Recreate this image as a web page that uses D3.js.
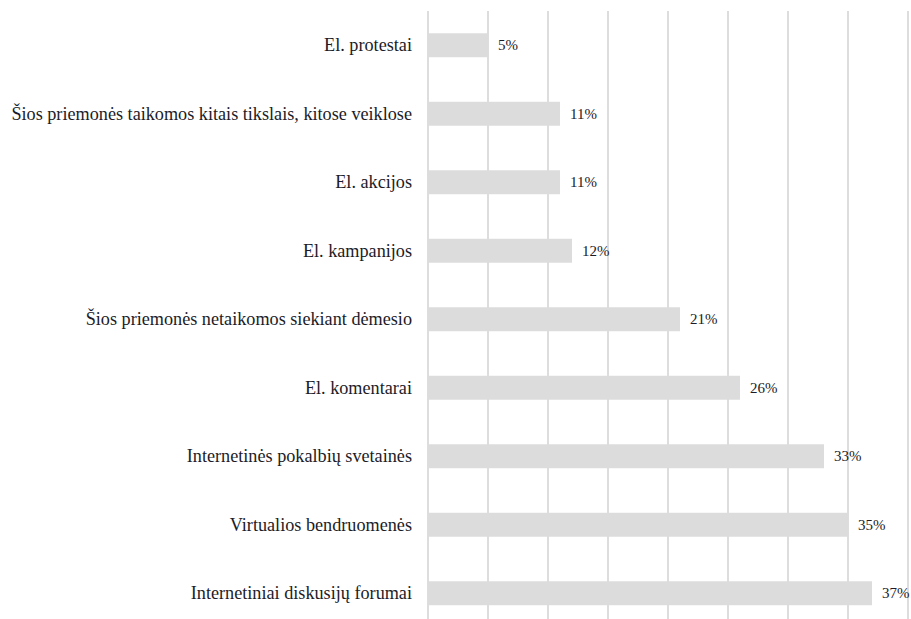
<!DOCTYPE html>
<html><head><meta charset="utf-8">
<script src="https://cdn.jsdelivr.net/npm/d3@7/dist/d3.min.js"></script>
<style>html,body{margin:0;padding:0;background:#fff;} text{font-family:"Liberation Serif","Times New Roman",Times,serif;}</style>
</head><body><svg id="c" width="911" height="619"></svg>
<script>
const categories = [
  "El. protestai",
  "Šios priemonės taikomos kitais tikslais, kitose veiklose",
  "El. akcijos",
  "El. kampanijos",
  "Šios priemonės netaikomos siekiant dėmesio",
  "El. komentarai",
  "Internetinės pokalbių svetainės",
  "Virtualios bendruomenės",
  "Internetiniai diskusijų forumai"
];
const values = [5, 11, 11, 12, 21, 26, 33, 35, 37];
const ticks = [0, 5, 10, 15, 20, 25, 30, 35, 40];

const svg = d3.select("#c");
const x = d3.scaleLinear().domain([0, 40]).range([428, 908]);
const y = d3.scaleBand().domain(categories).range([11, 627.5]).paddingInner(0.65).paddingOuter(0.325);

svg.append("g").selectAll("line").data(ticks).join("line")
  .attr("x1", d => x(d)).attr("x2", d => x(d))
  .attr("y1", 11).attr("y2", 619)
  .attr("stroke", "#dadada").attr("stroke-width", 1.8);

const data = categories.map((c, i) => ({c, v: values[i]}));

svg.append("g").selectAll("rect").data(data).join("rect")
  .attr("x", x(0)).attr("y", d => y(d.c))
  .attr("width", d => x(d.v) - x(0)).attr("height", y.bandwidth())
  .attr("fill", "#dcdcdc");

svg.append("g").selectAll("text").data(data).join("text")
  .attr("x", 412).attr("y", d => y(d.c) + y.bandwidth()/2)
  .attr("text-anchor", "end").attr("dominant-baseline", "central")
  .style("font-size", "18.2px").attr("fill", "#1c1c28")
  .text(d => d.c);

svg.append("g").selectAll("text").data(data).join("text")
  .attr("x", d => x(d.v) + 10).attr("y", d => y(d.c) + y.bandwidth()/2)
  .attr("dominant-baseline", "central")
  .style("font-size", "15px").attr("fill", "#1c1c28")
  .text(d => d.v + "%");
</script></body></html>
